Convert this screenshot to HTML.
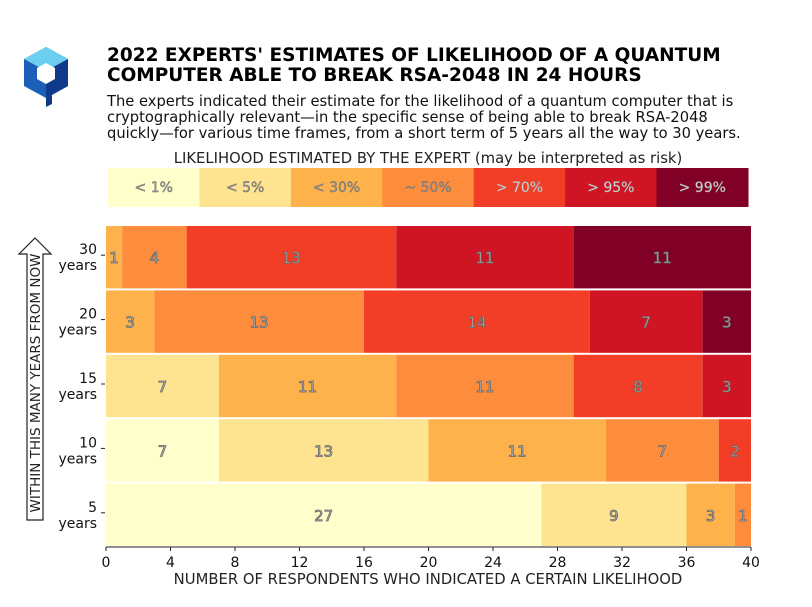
<!DOCTYPE html>
<html><head><meta charset="utf-8"><style>
body{margin:0;background:#fff;width:812px;height:603px;overflow:hidden;font-family:"DejaVu Sans","Liberation Sans",sans-serif;}
</style></head><body>
<svg width="812" height="603" viewBox="0 0 812 603" xmlns="http://www.w3.org/2000/svg" font-family="DejaVu Sans, Liberation Sans, sans-serif">
<g>
<polygon points="46,47 68,59 68,86 46,98 24,86 24,59" fill="#1b5fb8"/>
<polygon points="46,47 68,59 46,71 24,59" fill="#6ccff2"/>
<polygon points="46,71 68,59 68,86 52,95 46,98" fill="#0f3a8a"/>
<polygon points="46,63 55,68 55,79 46,84 37,79 37,68" fill="#fff"/>
<polygon points="46,98 52,95 52,104 46,107" fill="#0f3a8a"/>
</g>
<text x="107" y="61" font-size="18.5" font-weight="bold" fill="#000">2022 EXPERTS' ESTIMATES OF LIKELIHOOD OF A QUANTUM</text>
<text x="107" y="81" font-size="18.5" font-weight="bold" fill="#000">COMPUTER ABLE TO BREAK RSA-2048 IN 24 HOURS</text>
<g font-size="14.7" fill="#111">
<text x="107" y="106">The experts indicated their estimate for the likelihood of a quantum computer that is</text>
<text x="107" y="122">cryptographically relevant—in the specific sense of being able to break RSA-2048</text>
<text x="107" y="138">quickly—for various time frames, from a short term of 5 years all the way to 30 years.</text>
</g>
<text x="428" y="163" font-size="14.8" text-anchor="middle" fill="#222">LIKELIHOOD ESTIMATED BY THE EXPERT (may be interpreted as risk)</text>
<g id="legend"></g>
<g id="bars"></g>
<g id="axes"></g>
<g>
<polygon points="35,238 51,254 43,254 43,520 27,520 27,254 19,254" fill="#fff" stroke="#222" stroke-width="1.2"/>
<text x="40" y="383" font-size="13.5" fill="#222" text-anchor="middle" transform="rotate(-90 40 383)">WITHIN THIS MANY YEARS FROM NOW</text>
</g>
<text x="428" y="584" font-size="14.8" text-anchor="middle" fill="#222">NUMBER OF RESPONDENTS WHO INDICATED A CERTAIN LIKELIHOOD</text>
</svg>
<script>
const categories = ["< 1%","< 5%","< 30%","~ 50%","> 70%","> 95%","> 99%"];
const rowLabels = ["30","20","15","10","5"];
const r30 = [0,0,1,4,13,11,11];
const r20 = [0,0,3,13,14,7,3];
const r15 = [0,7,11,11,8,3,0];
const r10 = [7,13,11,7,2,0,0];
const r5 = [27,9,3,1,0,0,0];
const xTicks = [0,4,8,12,16,20,24,28,32,36,40];
const colors = ["#ffffcc","#fee391","#feb24c","#fd8d3c","#f23e26","#cf1424","#800026"];
const rows=[r30,r20,r15,r10,r5];
const NS="http://www.w3.org/2000/svg";
const plotX0=106,plotX1=751,plotTop=225,rowH=64.4;
const xs=v=>plotX0+(plotX1-plotX0)*v/40;
function mk(t,a,p){const e=document.createElementNS(NS,t);for(const k in a)e.setAttribute(k,a[k]);p.appendChild(e);return e;}
const lg=document.getElementById('legend');
const lw=(748-108)/categories.length;
categories.forEach((c,i)=>{
 const r=mk('rect',{x:108+i*lw,y:168,width:lw+0.5,height:39,fill:colors[i]},lg);
 
 
 const t=mk('text',{x:108+i*lw+lw/2,y:192,'font-size':14,'text-anchor':'middle',fill:i>=4?'#ddd':'#999',stroke:i>=4?'#999':'#666','stroke-width':0.4},lg);
 t.textContent=c;
 
 
});
const bg=document.getElementById('bars');
rows.forEach((row,ri)=>{
 let acc=0;const y=plotTop+ri*rowH+1;
 row.forEach((v,ci)=>{
  if(!v)return;
  const r=mk('rect',{x:xs(acc),y:y,width:xs(acc+v)-xs(acc),height:rowH-2,fill:colors[ci]},bg);
  
  
  const t=mk('text',{x:(xs(acc)+xs(acc+v))/2,y:y+rowH/2+5,'font-size':15,'text-anchor':'middle',fill:'#bbb',stroke:'#666','stroke-width':0.8},bg);
  t.textContent=v;
  
  
  acc+=v;
 });
 const tl=mk('text',{x:97,y:y+rowH/2-4,'font-size':14,'text-anchor':'end',fill:'#111'},bg);
 tl.textContent=rowLabels[ri];
 
 
 const t2=mk('text',{x:97,y:y+rowH/2+12,'font-size':14,'text-anchor':'end',fill:'#111'},bg);
 t2.textContent='years';
 
 
 mk('line',{x1:101,x2:105,y1:y+rowH/2-3,y2:y+rowH/2-3,stroke:'#222'},bg);
});
const ax=document.getElementById('axes');
const bl=mk('line',{x1:plotX0,x2:plotX1,y1:plotTop+5*rowH,y2:plotTop+5*rowH,stroke:'#222','stroke-width':1},ax);


xTicks.forEach(v=>{
 mk('line',{x1:xs(v),x2:xs(v),y1:plotTop+5*rowH,y2:plotTop+5*rowH+4,stroke:'#222'},ax);
 const t=mk('text',{x:xs(v),y:567,'font-size':14,'text-anchor':'middle',fill:'#111'},ax);
 t.textContent=v;
 
 
});
</script>
</body></html>
